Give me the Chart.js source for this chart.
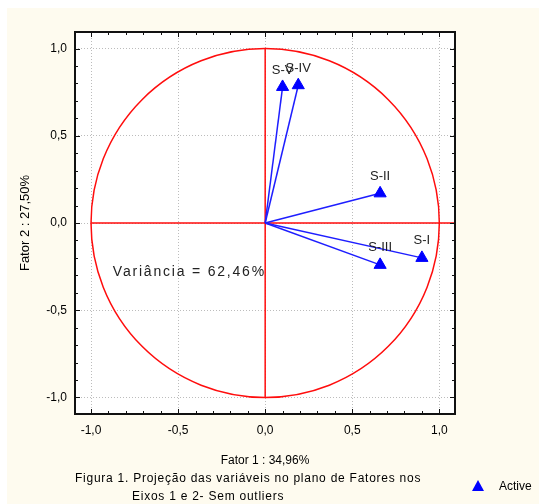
<!DOCTYPE html>
<html>
<head>
<meta charset="utf-8">
<script src="https://cdn.jsdelivr.net/npm/chart.js@4.4.0/dist/chart.umd.min.js"></script>
<style>
  html, body { margin: 0; padding: 0; background: #fff; }
  canvas { display: block; }
</style>
</head>
<body>
<canvas id="pcaChart" width="539" height="504"></canvas>
<script>
// Variable loadings on factors 1 and 2
const variableNames = ['S-I', 'S-II', 'S-III', 'S-IV', 'S-V'];
const factor1 = [0.90, 0.66, 0.66, 0.19, 0.10];
const factor2 = [-0.20, 0.17, -0.24, 0.79, 0.78];

// Axis ticks (every 0.1, labelled every 0.5)
const axisTicks = [-1, -0.9, -0.8, -0.7, -0.6, -0.5, -0.4, -0.3, -0.2, -0.1, 0,
    0.1, 0.2, 0.3, 0.4, 0.5, 0.6, 0.7, 0.8, 0.9, 1];
const majorTicks = [-1, -0.5, 0, 0.5, 1];
const tickLabels = ['-1,0', '-0,5', '0,0', '0,5', '1,0'];

const FONT = 'Liberation Sans';

function majorIndex(v) {
    return majorTicks.findIndex(m => Math.abs(m - v) < 1e-6);
}

// cream page, white plot area
const backdrop = {
    id: 'backdrop',
    beforeDraw(chart) {
        const { ctx, chartArea: a } = chart;
        ctx.save();
        ctx.fillStyle = '#ffffff';
        ctx.fillRect(0, 0, chart.width, chart.height);
        ctx.fillStyle = '#fefbef';
        ctx.fillRect(7, 8, chart.width - 7, chart.height - 8);
        ctx.fillStyle = '#ffffff';
        ctx.fillRect(a.left, a.top, a.right - a.left, a.bottom - a.top);
        ctx.restore();
    }
};

// unit circle + red axes through origin
const circle = {
    id: 'circle',
    beforeDatasetsDraw(chart) {
        const { ctx } = chart;
        const x = chart.scales.x, y = chart.scales.y;
        const cx = x.getPixelForValue(0), cy = y.getPixelForValue(0);
        const rx = x.getPixelForValue(1) - cx;
        const ry = cy - y.getPixelForValue(1);
        ctx.save();
        ctx.strokeStyle = '#ff0d0d';
        ctx.lineWidth = 1.5;
        ctx.beginPath();
        ctx.ellipse(cx, cy, rx, ry, 0, 0, Math.PI * 2);
        ctx.stroke();
        ctx.beginPath();
        ctx.moveTo(x.getPixelForValue(-1), cy);
        ctx.lineTo(chart.chartArea.right, cy);
        ctx.moveTo(cx, y.getPixelForValue(1));
        ctx.lineTo(cx, y.getPixelForValue(-1));
        ctx.stroke();
        ctx.restore();
    }
};

// point names, frame, inner ticks, notes
const extras = {
    id: 'extras',
    afterDatasetsDraw(chart) {
        const { ctx, chartArea: a } = chart;
        const x = chart.scales.x, y = chart.scales.y;
        ctx.save();

        ctx.fillStyle = '#222';
        ctx.font = '13px "' + FONT + '"';
        ctx.textAlign = 'center';
        ctx.textBaseline = 'middle';
        variableNames.forEach((name, i) => {
            const el = chart.getDatasetMeta(i).data[1];
            ctx.fillText(name, el.x, el.y - 17);
        });

        ctx.textAlign = 'left';
        ctx.font = '14px "' + FONT + '"';
        ctx.letterSpacing = '1.8px';
        ctx.fillText('Variância = 62,46%', x.getPixelForValue(-0.875), y.getPixelForValue(-0.28));
        ctx.letterSpacing = '0px';

        // frame
        ctx.strokeStyle = '#111';
        ctx.lineWidth = 2;
        ctx.strokeRect(a.left, a.top, a.right - a.left, a.bottom - a.top);

        // inward tick marks
        ctx.lineWidth = 1;
        ctx.beginPath();
        x.ticks.forEach(t => {
            const len = majorIndex(t.value) >= 0 ? 5 : 3;
            const px = Math.round(x.getPixelForValue(t.value)) + 0.5;
            ctx.moveTo(px, a.bottom); ctx.lineTo(px, a.bottom - len);
            ctx.moveTo(px, a.top); ctx.lineTo(px, a.top + len);
        });
        y.ticks.forEach(t => {
            const len = majorIndex(t.value) >= 0 ? 5 : 3;
            const py = Math.round(y.getPixelForValue(t.value)) + 0.5;
            ctx.moveTo(a.left, py); ctx.lineTo(a.left + len, py);
            ctx.moveTo(a.right, py); ctx.lineTo(a.right - len, py);
        });
        ctx.stroke();

        // caption
        ctx.fillStyle = '#000';
        ctx.font = '12px "' + FONT + '"';
        ctx.textAlign = 'left';
        ctx.letterSpacing = '0.75px';
        ctx.fillText('Figura 1. Projeção das variáveis no plano de Fatores nos', 75, 479);
        ctx.fillText('Eixos 1 e 2- Sem outliers', 132, 497);
        ctx.letterSpacing = '0px';

        // legend
        ctx.fillStyle = '#0000ff';
        ctx.beginPath();
        ctx.moveTo(478, 480);
        ctx.lineTo(484, 491);
        ctx.lineTo(472, 491);
        ctx.closePath();
        ctx.fill();
        ctx.fillStyle = '#000';
        ctx.fillText('Active', 499, 487);
        ctx.restore();
    }
};

const datasets = variableNames.map((name, i) => ({
    label: name,
    data: [{ x: 0, y: 0 }, { x: factor1[i], y: factor2[i] }],
    showLine: true,
    borderColor: '#1e1eff',
    backgroundColor: '#0000ff',
    borderWidth: 1.5,
    pointStyle: 'triangle',
    pointRadius: [0, 7],
    pointBorderWidth: 1,
    pointBorderColor: '#0000ff'
}));

function gridColor(ctx) {
    return ctx.tick && majorIndex(ctx.tick.value) >= 0 ? '#bcbcbc' : 'rgba(0,0,0,0)';
}

function tickText(v) {
    const i = majorIndex(v);
    return i >= 0 ? tickLabels[i] : '';
}

function setTicks(scale) {
    scale.ticks = axisTicks.map(v => ({ value: v }));
}

new Chart(document.getElementById('pcaChart').getContext('2d'), {
    type: 'scatter',
    data: { datasets: datasets },
    options: {
        responsive: false,
        animation: false,
        layout: { padding: { top: 32, left: 0, right: 84, bottom: 30 } },
        plugins: {
            legend: { display: false },
            tooltip: { enabled: false }
        },
        scales: {
            x: {
                type: 'linear',
                min: -1.092,
                max: 1.09,
                afterBuildTicks: setTicks,
                afterFit: s => { s.height = 60; },
                ticks: {
                    autoSkip: false,
                    maxRotation: 0,
                    padding: 9,
                    color: '#000',
                    font: { family: FONT, size: 12 },
                    callback: tickText
                },
                grid: { color: gridColor, drawTicks: false, lineWidth: 1 },
                border: { display: false, dash: [1, 2] },
                title: {
                    display: true,
                    text: 'Fator 1 : 34,96%',
                    color: '#000',
                    font: { family: FONT, size: 12 },
                    padding: { top: 0, bottom: 6 }
                }
            },
            y: {
                type: 'linear',
                min: -1.095,
                max: 1.095,
                afterBuildTicks: setTicks,
                afterFit: s => { s.width = 75; },
                ticks: {
                    autoSkip: false,
                    padding: 8,
                    color: '#000',
                    font: { family: FONT, size: 12 },
                    callback: tickText
                },
                grid: { color: gridColor, drawTicks: false, lineWidth: 1 },
                border: { display: false, dash: [1, 2] },
                title: {
                    display: true,
                    text: 'Fator 2 : 27,50%',
                    color: '#000',
                    font: { family: FONT, size: 13 },
                    padding: { top: 18, bottom: 0 }
                }
            }
        }
    },
    plugins: [backdrop, circle, extras]
});
</script>
</body>
</html>
